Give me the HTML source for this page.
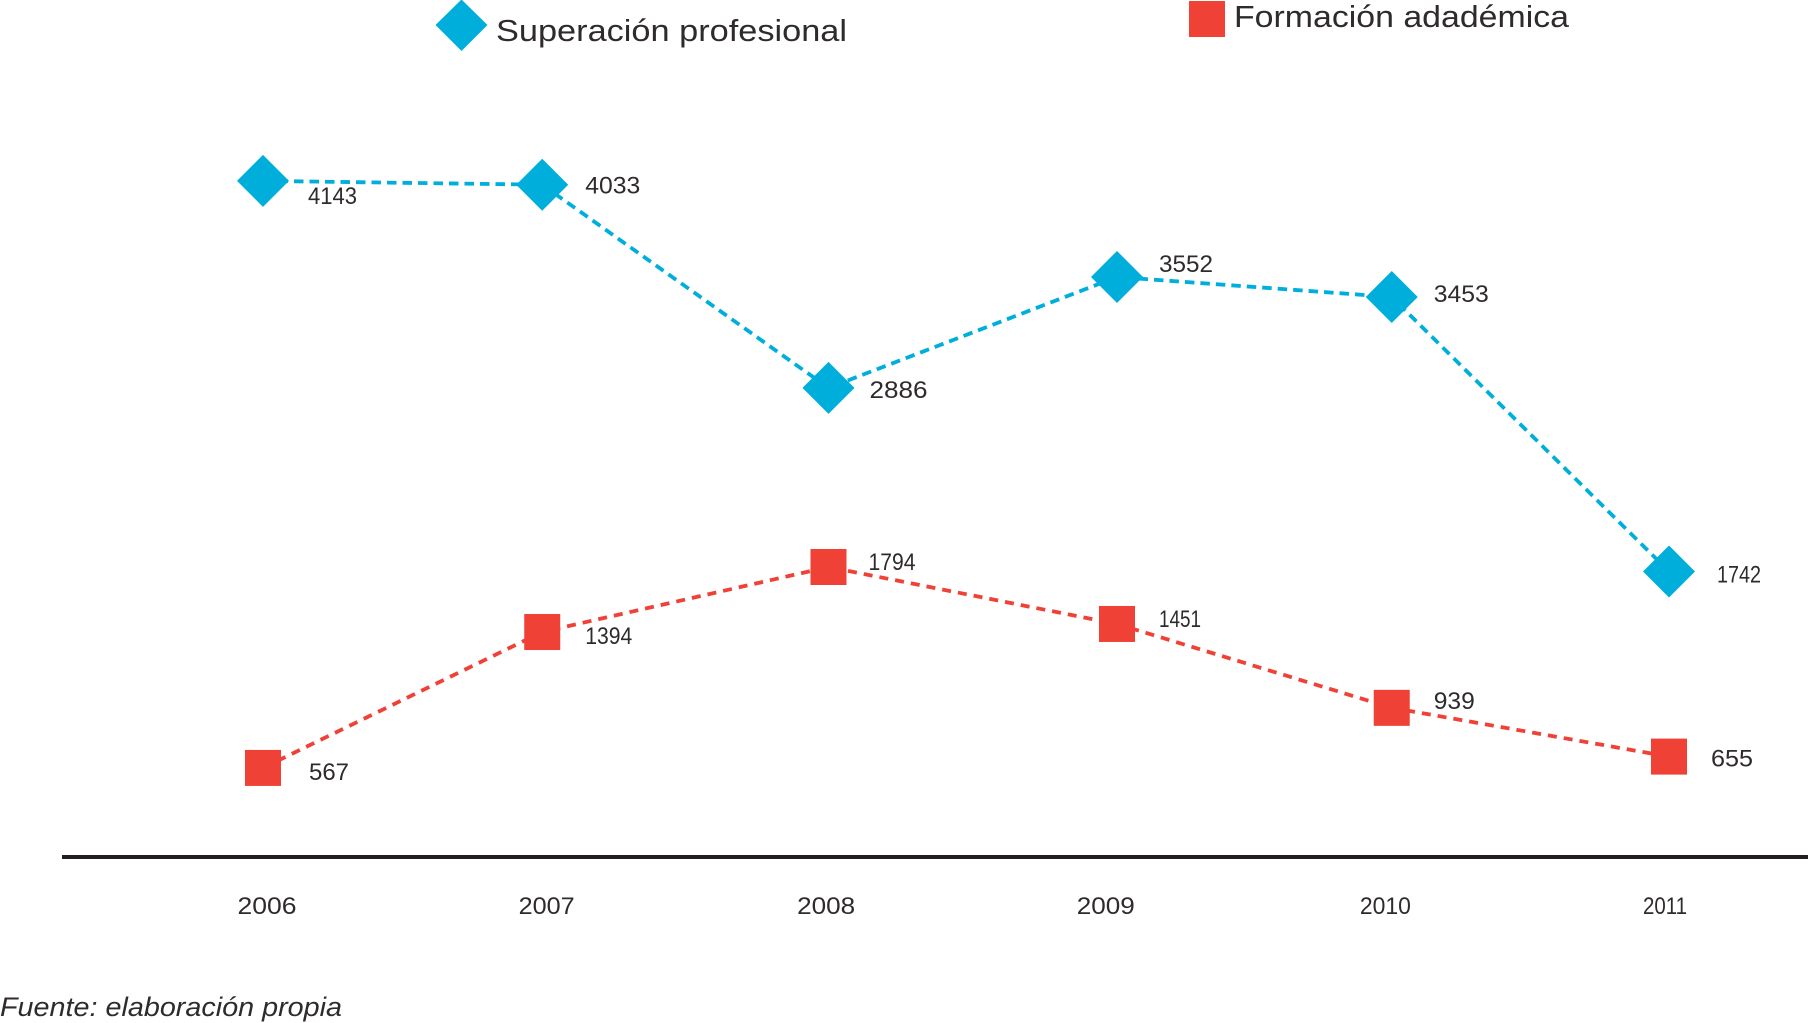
<!DOCTYPE html>
<html lang="es">
<head>
<meta charset="utf-8">
<title>Superación profesional y formación académica</title>
<style>
  html, body { margin: 0; padding: 0; background: #fff; }
  body { width: 1808px; height: 1023px; overflow: hidden; }
  svg { display: block; }
  text { font-family: "Liberation Sans", sans-serif; fill: #2f2b2c; }
</style>
</head>
<body>
<svg id="chart" width="1808" height="1023" viewBox="0 0 1808 1023" xmlns="http://www.w3.org/2000/svg">
  <g>
    <polygon points="461.5,-0.5 487.5,25 461.5,51 435.5,25" fill="#00aedc"/>
    <text x="496" y="41" font-size="31" textLength="351" lengthAdjust="spacingAndGlyphs">Superación profesional</text>
    <rect x="1189" y="1" width="36" height="36" fill="#f04136"/>
    <text x="1234" y="27" font-size="31" textLength="335" lengthAdjust="spacingAndGlyphs">Formación adadémica</text>
  </g>
  <g id="series-layer"></g>
  <line x1="62" y1="857" x2="1808" y2="857" stroke="#231f20" stroke-width="4"/>
  <g id="tick-layer"></g>
  <text x="0" y="1016" font-size="27" font-style="italic" textLength="342" lengthAdjust="spacingAndGlyphs">Fuente: elaboración propia</text>
</svg>
<script>
// Data: categories, plotted values and printed labels.
const categories = ['2006', '2007', '2008', '2009', '2010', '2011'];
const superacionValues = [4143, 4120, 2882, 3558, 3436, 1764];
const formacionValues = [567, 1395, 1791, 1444, 933, 636];
const superacionLabels = ['4143', '4033', '2886', '3552', '3453', '1742'];
const formacionLabels = ['567', '1394', '1794', '1451', '939', '655'];

// Layout (not data): category slot placement and label offsets from each mark.
const slotPlacement = [0, 0.993, 2.011, 3.037, 4.014, 5];
const superacionLabelLayout = [[45, 23, 49], [43, 9, 55], [41, 10, 58], [42, -5, 54], [42, 5, 55], [48, 11, 44]];
const formacionLabelLayout = [[46, 12, 40], [43, 12, 47], [40, 3, 47], [42, 3, 42], [42, 1, 41], [42, 10, 42]];
const tickLabelWidths = [59, 56, 58, 58, 51, 44];

const NS = 'http://www.w3.org/2000/svg';
function xMark(i) { return 263 + 281.2 * slotPlacement[i]; }
function xTick(i) { return 267 + 279.6 * i; }
function yValue(v) { return 861 - 0.16415 * v; }

function make(tag, attrs, parent) {
  const el = document.createElementNS(NS, tag);
  for (const k in attrs) el.setAttribute(k, attrs[k]);
  parent.appendChild(el);
  return el;
}

const seriesLayer = document.getElementById('series-layer');
const tickLayer = document.getElementById('tick-layer');

function drawSeries(key, values, labels, labelLayout, color, shape, dash) {
  const g = make('g', {}, seriesLayer);
  
  

  const pts = values.map(function (v, i) { return xMark(i).toFixed(1) + ',' + yValue(v).toFixed(1); }).join(' ');
  const line = make('polyline', { points: pts, fill: 'none', stroke: color, 'stroke-width': 3.8, 'stroke-dasharray': dash }, g);
  
  

  values.forEach(function (v, i) {
    const cx = xMark(i);
    const cy = yValue(v);
    let mark;
    if (shape === 'diamond') {
      const r = 26;
      mark = make('polygon', { points: cx + ',' + (cy - r) + ' ' + (cx + r) + ',' + cy + ' ' + cx + ',' + (cy + r) + ' ' + (cx - r) + ',' + cy, fill: color }, g);
    } else {
      mark = make('rect', { x: cx - 18, y: cy - 18, width: 36, height: 36, fill: color }, g);
    }
    
    

    const lay = labelLayout[i];
    const label = make('text', { x: cx + lay[0], y: cy + lay[1], 'font-size': 24, textLength: lay[2], lengthAdjust: 'spacingAndGlyphs' }, g);
    label.textContent = labels[i];
    
    
  });
}

drawSeries('superacion', superacionValues, superacionLabels, superacionLabelLayout, '#00aedc', 'diamond', '9.5 6');
drawSeries('formacion', formacionValues, formacionLabels, formacionLabelLayout, '#f04136', 'square', '9 7');

categories.forEach(function (c, i) {
  const w = tickLabelWidths[i];
  const t = make('text', { x: xTick(i) - w / 2, y: 914, 'font-size': 24, textLength: w, lengthAdjust: 'spacingAndGlyphs' }, tickLayer);
  t.textContent = c;
  
  
});
</script>
</body>
</html>
